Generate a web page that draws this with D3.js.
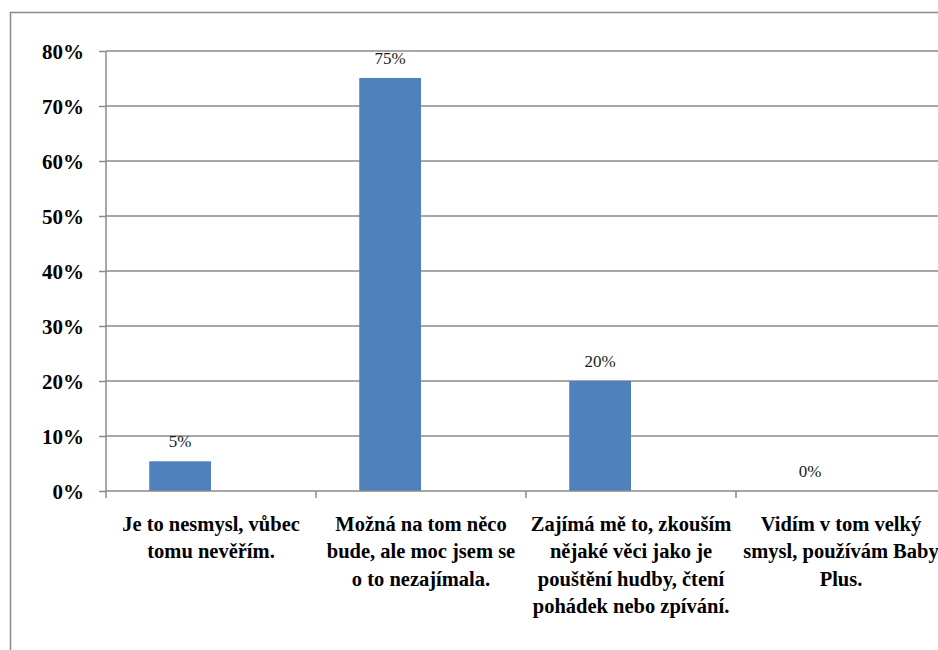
<!DOCTYPE html>
<html>
<head>
<meta charset="utf-8">
<script src="https://cdn.jsdelivr.net/npm/d3@7/dist/d3.min.js"></script>
<style>
html,body{margin:0;padding:0;background:#fff;overflow:hidden;}
svg{display:block;}
svg text{font-family:"Liberation Serif","Times New Roman",Times,"Tinos","DejaVu Serif",serif;}
</style>
</head>
<body>
<svg id="chart" width="938" height="650"></svg>
<script>
// ---- data ----
const categories = [
  "Je to nesmysl, vůbec\ntomu nevěřím.",
  "Možná na tom něco\nbude, ale moc jsem se\no to nezajímala.",
  "Zajímá mě to, zkouším\nnějaké věci jako je\npouštění hudby, čtení\npohádek nebo zpívání.",
  "Vidím v tom velký\nsmysl, používám Baby\nPlus."
];
const values = [0.054, 0.751, 0.20, 0.0];
const yTicks = [0, 0.1, 0.2, 0.3, 0.4, 0.5, 0.6, 0.7, 0.8];
const seriesSlots = ["values", "empty"];

// ---- layout ----
const svg = d3.select("#chart");
const plot = {left: 106, right: 946, top: 51, bottom: 491};
const grey = "#8a8a8a";
const serif = '"Liberation Serif","Times New Roman",Times,Tinos,"DejaVu Serif",serif';

// frame
svg.append("rect")
  .attr("x", 10.5).attr("y", 12.5)
  .attr("width", 960).attr("height", 700)
  .attr("fill", "#fff").attr("stroke", grey).attr("stroke-width", 1.5);

const x = d3.scaleBand().domain(categories).range([plot.left, plot.right]).paddingInner(0).paddingOuter(0);
const xs = d3.scaleBand().domain(seriesSlots).range([0, x.bandwidth()]).paddingInner(0).paddingOuter(0.7);
const y = d3.scaleLinear().domain([0, 0.8]).range([plot.bottom, plot.top]);

// gridlines
svg.append("g").selectAll("line").data(yTicks.filter(d => d > 0)).join("line")
  .attr("x1", plot.left).attr("x2", plot.right)
  .attr("y1", d => y(d)).attr("y2", d => y(d))
  .attr("stroke", grey).attr("stroke-width", 1.5);

// bars
svg.append("g").selectAll("rect").data(values).join("rect")
  .attr("x", (d, i) => x(categories[i]) + xs("values"))
  .attr("width", xs.bandwidth())
  .attr("y", d => y(d))
  .attr("height", d => y(0) - y(d))
  .attr("fill", "#4F81BD");

// value labels
svg.append("g").selectAll("text").data(values).join("text")
  .attr("x", (d, i) => x(categories[i]) + xs("values") + xs.bandwidth() / 2)
  .attr("y", d => y(d) - 14)
  .attr("text-anchor", "middle")
  .style("font-family", serif)
  .attr("font-size", 17)
  .attr("fill", "#1a1a1a")
  .text(d => d3.format(".0%")(d));

// y axis
const yAxis = d3.axisLeft(y).tickValues(yTicks).tickFormat(d3.format(".0%")).tickSize(7).tickPadding(15);
const gy = svg.append("g").attr("transform", `translate(${plot.left},0)`).call(yAxis);
gy.attr("font-family", null);
gy.select(".domain").attr("stroke", grey).attr("stroke-width", 1.5).attr("d", `M0,${plot.top}V${plot.bottom}`);
gy.selectAll(".tick line").attr("stroke", grey).attr("stroke-width", 1.5);
gy.selectAll(".tick text")
  .style("font-family", serif)
  .attr("font-weight", "bold").attr("font-size", 21).attr("fill", "#000")
  .attr("dy", "0.34em");

// x axis
const gx = svg.append("g").attr("transform", `translate(0,${plot.bottom})`);
gx.append("line").attr("x1", plot.left).attr("x2", plot.right).attr("y1", 0).attr("y2", 0)
  .attr("stroke", grey).attr("stroke-width", 1.5);
const bounds = categories.map(c => x(c)).concat([plot.right]);
gx.selectAll("line.tk").data(bounds).join("line").attr("class", "tk")
  .attr("x1", d => d).attr("x2", d => d).attr("y1", 0).attr("y2", 7)
  .attr("stroke", grey).attr("stroke-width", 1.5);

const labels = svg.append("g").selectAll("text").data(categories).join("text")
  .attr("x", d => x(d) + x.bandwidth() / 2)
  .attr("y", 531)
  .attr("text-anchor", "middle")
  .style("font-family", serif)
  .attr("font-weight", "bold").attr("font-size", 20.5).attr("fill", "#000");
labels.each(function(d) {
  const t = d3.select(this);
  d.split("\n").forEach((line, i) => {
    t.append("tspan").attr("x", x(d) + x.bandwidth() / 2).attr("y", 531 + i * 27.3).text(line);
  });
});
</script>
</body>
</html>
